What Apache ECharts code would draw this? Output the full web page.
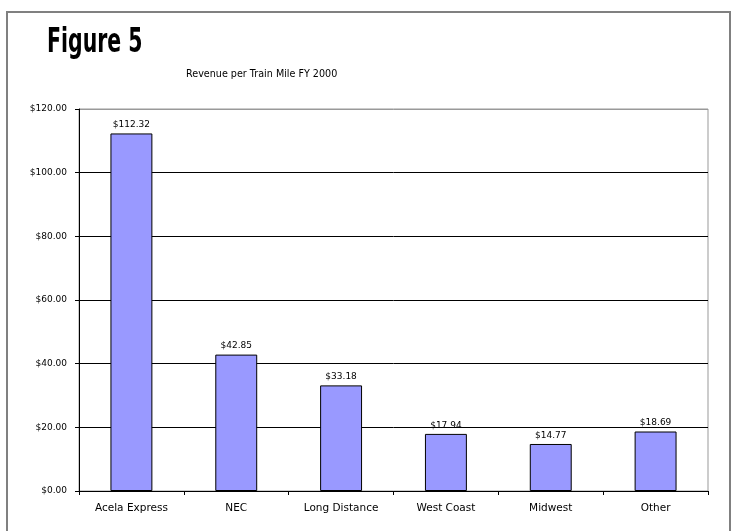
<!DOCTYPE html>
<html>
<head>
<meta charset="utf-8">
<script src="https://cdn.jsdelivr.net/npm/echarts@6/dist/echarts.min.js"></script>
<style>
html,body{margin:0;padding:0;background:#fff;}
#chart{width:731px;height:531px;}
</style>
</head>
<body>
<div id="chart"></div>
<script>
const categories = ['Acela Express', 'NEC', 'Long Distance', 'West Coast', 'Midwest', 'Other'];
const revenue = [112.32, 42.85, 33.18, 17.94, 14.77, 18.69];
const yTicks = [0, 20, 40, 60, 80, 100, 120];

const chart = echarts.init(document.getElementById('chart'), null, {renderer: 'canvas'});
const fmt = v => '$' + Number(v).toFixed(2);
chart.setOption({
  animation: false,
  backgroundColor: '#fff',
  title: [
    {text: 'Revenue per Train Mile FY 2000', left: 181, top: 64,
     textStyle: {fontFamily: '"DejaVu Sans", sans-serif', fontWeight: 'normal', fontSize: 9.6, color: '#000'}}
  ],
  graphic: [
    {type: 'polyline', shape: {points: [[7, 531], [7, 12], [730, 12], [730, 531]]},
     style: {stroke: '#808080', lineWidth: 2, fill: null}, silent: true},
    {type: 'text', x: 47, y: 27, scaleX: 0.62, silent: true,
     style: {text: 'Figure 5', fill: '#000', font: 'bold 33px "DejaVu Sans", sans-serif'}}
  ],
  grid: {left: 79, top: 109, right: 23, bottom: 40, show: true, borderColor: '#999', borderWidth: 1, backgroundColor: 'transparent'},
  xAxis: {
    type: 'category', data: categories,
    axisLine: {lineStyle: {color: '#000', width: 1}},
    axisTick: {show: true, alignWithLabel: false, length: 4, lineStyle: {color: '#000'}},
    axisLabel: {color: '#000', fontFamily: '"DejaVu Sans", sans-serif', fontSize: 10.5, margin: 12}
  },
  yAxis: {
    type: 'value', min: yTicks[0], max: yTicks[yTicks.length - 1], interval: 20,
    axisLine: {show: true, lineStyle: {color: '#000', width: 1}},
    axisTick: {show: true, length: 4, lineStyle: {color: '#000'}},
    axisLabel: {color: '#000', fontFamily: '"DejaVu Sans", sans-serif', fontSize: 9, margin: 12, formatter: fmt},
    splitLine: {show: true, lineStyle: {color: ['#000', '#000', '#000', '#000', '#000', '#000', '#999'], width: 1}}
  },
  series: [{
    type: 'bar', data: revenue, barWidth: '40%',
    itemStyle: {color: '#9999FF', borderColor: '#000', borderWidth: 1},
    label: {show: true, position: 'top', distance: 4, color: '#000', fontFamily: '"DejaVu Sans", sans-serif', fontSize: 9, formatter: p => fmt(p.value)}
  }]
});
</script>
</body>
</html>
